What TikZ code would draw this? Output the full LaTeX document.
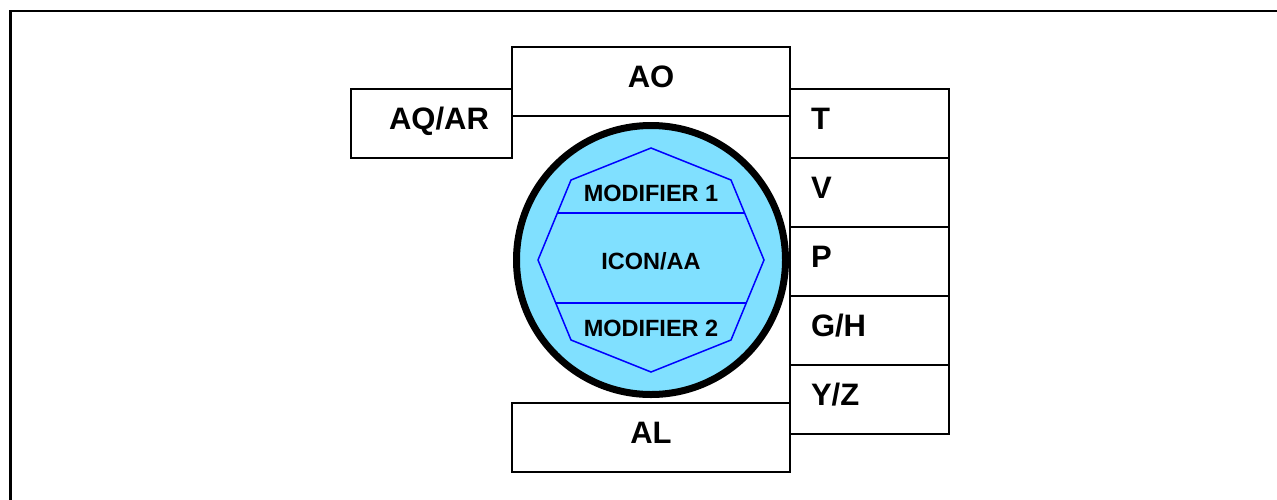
\documentclass[tikz,border=0pt]{standalone}
\usepackage{fontspec}
\setmainfont{Liberation Sans}
\usetikzlibrary{positioning}
\definecolor{iconblue}{HTML}{80E0FF}
\tikzset{
  box/.style={rectangle,draw,line width=2pt,outer sep=0pt,minimum height=69pt,font=\fontsize{31}{31}\selectfont\bfseries,text height=22pt,text depth=10pt},
  wide/.style={box,minimum width=278pt},
  side/.style={box,text width=115pt,inner xsep=23pt,align=right},
  cell/.style={box,text width=117pt,inner xsep=21pt,align=left},
  icon/.style={circle,draw,line width=7pt,fill=iconblue,minimum size=269pt,inner sep=0pt},
  facet/.style={draw=blue,line width=1.5pt},
  modtext/.style={font=\fontsize{23.5}{23.5}\selectfont\bfseries,text depth=0pt}
}
\begin{document}
\begin{tikzpicture}[x=1pt,y=-1pt]
\useasboundingbox (0,0) rectangle (1277,499);
\draw[line width=2.5pt] (10.5,11) rectangle (1320,540);
\node[wide] (ao) at (651,81.5) {AO};
\node[side, below left=42pt and 0pt of ao.north west] (aq) {AQ/AR};
\node[cell, below right=42pt and 0pt of ao.north east] (t) {T};
\node[cell, below=0pt of t] (v) {V};
\node[cell, below=0pt of v] (p) {P};
\node[cell, below=0pt of p] (gh) {G/H};
\node[cell, below=0pt of gh] (yz) {Y/Z};
\node[wide, below left=38pt and 0pt of yz.north west] (al) {AL};
\node[icon] (icon) at (651,260) {};
\begin{scope}[shift={(icon.center)}]
  \path (0,-112) coordinate (o1) (80,-80) coordinate (o2) (113,0) coordinate (o3)
        (80,80) coordinate (o4) (0,112) coordinate (o5) (-80,80) coordinate (o6)
        (-113,0) coordinate (o7) (-80,-80) coordinate (o8);
  \draw[facet] (o1) -- (o2) -- (o3) -- (o4) -- (o5) -- (o6) -- (o7) -- (o8) -- cycle;
  \begin{scope}
    \clip (o1) -- (o2) -- (o3) -- (o4) -- (o5) -- (o6) -- (o7) -- (o8) -- cycle;
    \draw[facet] (-130,-47) -- (130,-47) (-130,43) -- (130,43);
  \end{scope}
  \node[modtext] (mod1) at (0,-66.5) {MODIFIER 1};
  \node[modtext] (aa) at (0,1) {ICON/AA};
  \node[modtext] (mod2) at (0,68.5) {MODIFIER 2};
\end{scope}
\end{tikzpicture}
\end{document}
